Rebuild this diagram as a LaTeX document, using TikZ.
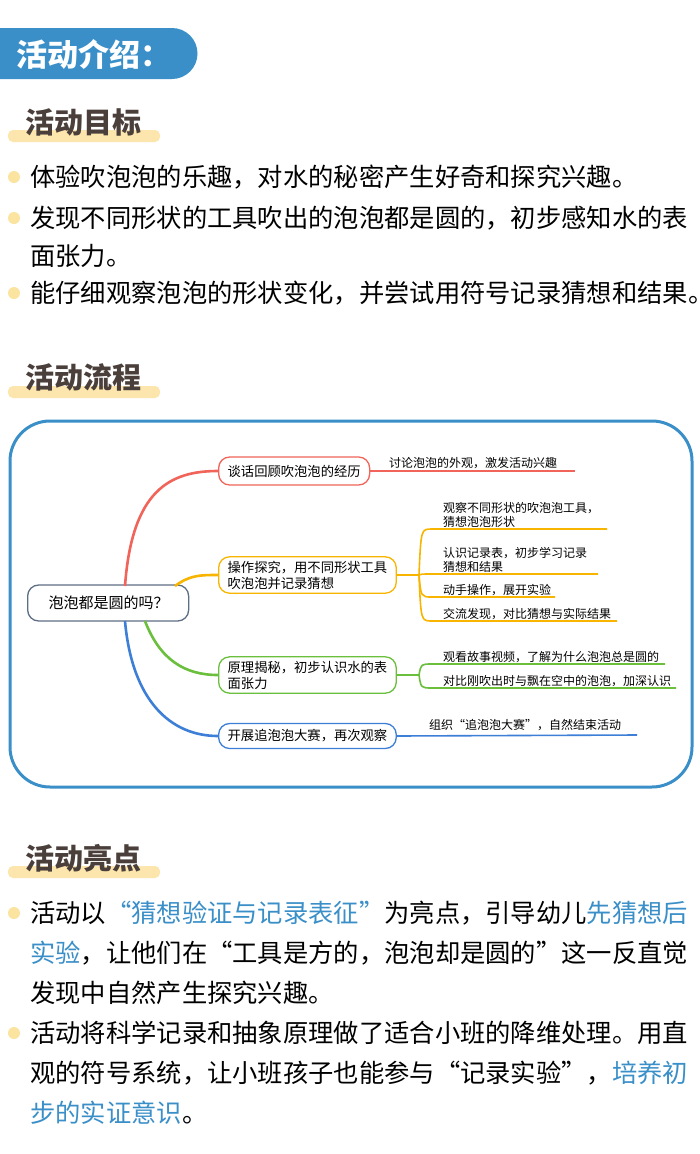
\documentclass[tikz,border=0pt]{standalone}
\usepackage{fontspec}
\setmainfont{Noto Sans CJK SC}
\definecolor{hblue}{HTML}{3A8FC8}
\definecolor{hbar}{HTML}{FCE6AE}
\definecolor{hbrown}{HTML}{4A3F3A}
\definecolor{dotc}{HTML}{FBE3A0}
\definecolor{cr}{HTML}{F0645A}
\definecolor{co}{HTML}{F7B500}
\definecolor{cg}{HTML}{6ABF3D}
\definecolor{cb}{HTML}{3D7FD6}
\definecolor{cgray}{HTML}{5E6E85}
\tikzset{
 body/.style={anchor=west,inner sep=0pt,font=\fontsize{25.3}{25}\selectfont,text=black},
 sec/.style={anchor=west,inner sep=0pt,font=\fontsize{29}{29}\selectfont\bfseries,text=hbrown},
 bdot/.style={fill=dotc,draw=none},
 mnode/.style={draw,rounded corners=11pt,line width=1.3pt,anchor=west,align=left,inner xsep=9pt,inner ysep=4pt,font=\fontsize{13.3}{16}\selectfont},
 leaf/.style={anchor=south west,inner sep=1pt,align=left,font=\fontsize{12}{14}\selectfont},
 br/.style={line width=1.6pt},
}
\begin{document}
\begin{tikzpicture}[x=1pt,y=-1pt]
\useasboundingbox (0,0) rectangle (700,1154);
\fill[white] (0,0) rectangle (700,1154);
% header
\fill[hblue] (0,28) -- (172,28) arc[start angle=-90,end angle=90,radius=25.5] -- (0,79) -- cycle;
\node[anchor=west,inner sep=0pt,text=white,font=\fontsize{31}{31}\selectfont\bfseries] (h) at (16,54) {活动介绍：};
% section 1
\fill[hbar,rounded corners=5pt] (8,130) rectangle (160,142);
\node[sec] (s1) at (25,122) {活动目标};
\foreach \y in {177,218,293}{\fill[bdot] (14,\y) circle (6);}
\node[body] (g1) at (30,177) {体验吹泡泡的乐趣，对水的秘密产生好奇和探究兴趣。};
\node[body] (g2) at (30,218) {发现不同形状的工具吹出的泡泡都是圆的，初步感知水的表};
\node[body] (g2b) at (30,256) {面张力。};
\node[body] (g3) at (30,293) {能仔细观察泡泡的形状变化，并尝试用符号记录猜想和结果。};
% section 2
\fill[hbar,rounded corners=5pt] (8,386) rectangle (160,398);
\node[sec] (s2) at (25,377) {活动流程};
\draw[hblue,line width=3pt,rounded corners=40pt] (10,421) rectangle (692,787);
% mind map
\node[mnode,draw=cgray,minimum height=36pt,minimum width=161pt,font=\fontsize{15}{16}\selectfont] (c) at (27,603) {\hspace{1pt}泡泡都是圆的吗？};
\node[mnode,draw=cr,minimum height=28pt] (b1) at (218,471) {谈话回顾吹泡泡的经历};
\node[mnode,draw=co] (b2) at (218,575) {操作探究，用不同形状工具\\吹泡泡并记录猜想};
\node[mnode,draw=cg] (b3) at (218,675) {原理揭秘，初步认识水的表\\面张力};
\node[mnode,draw=cb,minimum height=25pt] (b4) at (218,736) {开展追泡泡大赛，再次观察};
\draw[cr,line width=2.6pt] (125,586) .. controls (132,490) and (170,471) .. (b1.west);
\draw[co,line width=2.6pt] (175,586) .. controls (190,575) and (200,575) .. (b2.west);
\draw[cg,line width=2.6pt] (145,621) .. controls (160,660) and (185,675) .. (b3.west);
\draw[cb,line width=2.6pt] (125,621) .. controls (132,700) and (170,736) .. (b4.west);
% leaves
\coordinate (e1) at (575,471);
\draw[cr,br] (b1.east) -- (e1);
\node[leaf] (l1) at (388,470) {讨论泡泡的外观，激发活动兴趣};
\foreach \y/\e/\t [count=\i] in {529/607/{观察不同形状的吹泡泡工具，\\猜想泡泡形状},574/598/{认识记录表，初步学习记录\\猜想和结果},597/555/{动手操作，展开实验},621/617/{交流发现，对比猜想与实际结果}}{
 \coordinate (o\i) at (\e,\y);
 \draw[co,br] (b2.east) -- (419,575) .. controls (421,\y) .. (432,\y) -- (o\i);
 \node[leaf] (lo\i) at (442,\y) {\t};
}
\foreach \y/\e/\t [count=\i] in {664/665/{观看故事视频，了解为什么泡泡总是圆的},688/676/{对比刚吹出时与飘在空中的泡泡，加深认识}}{
 \coordinate (g\i) at (\e,\y);
 \draw[cg,br] (b3.east) -- (419,675) .. controls (421,\y) .. (432,\y) -- (g\i);
 \node[leaf] (lg\i) at (442,\y) {\t};
}
\coordinate (e4) at (637,735);
\draw[cb,br] (b4.east) -- (e4);
\node[leaf] (l4) at (428,732) {组织“追泡泡大赛”，自然结束活动};
% section 3
\fill[hbar,rounded corners=5pt] (8,866) rectangle (160,878);
\node[sec] (s3) at (25,858) {活动亮点};
\foreach \y in {913,1033}{\fill[bdot] (14,\y) circle (6);}
\node[body] (p1) at (30,913) {活动以\textcolor{hblue}{“猜想验证与记录表征”}为亮点，引导幼儿\textcolor{hblue}{先猜想后}};
\node[body] (p2) at (30,953) {\textcolor{hblue}{实验}，让他们在“工具是方的，泡泡却是圆的”这一反直觉};
\node[body] (p3) at (30,993) {发现中自然产生探究兴趣。};
\node[body] (p4) at (30,1033) {活动将科学记录和抽象原理做了适合小班的降维处理。用直};
\node[body] (p5) at (30,1073) {观的符号系统，让小班孩子也能参与“记录实验”，\textcolor{hblue}{培养初}};
\node[body] (p6) at (30,1113) {\textcolor{hblue}{步的实证意识}。};
\end{tikzpicture}
\end{document}
